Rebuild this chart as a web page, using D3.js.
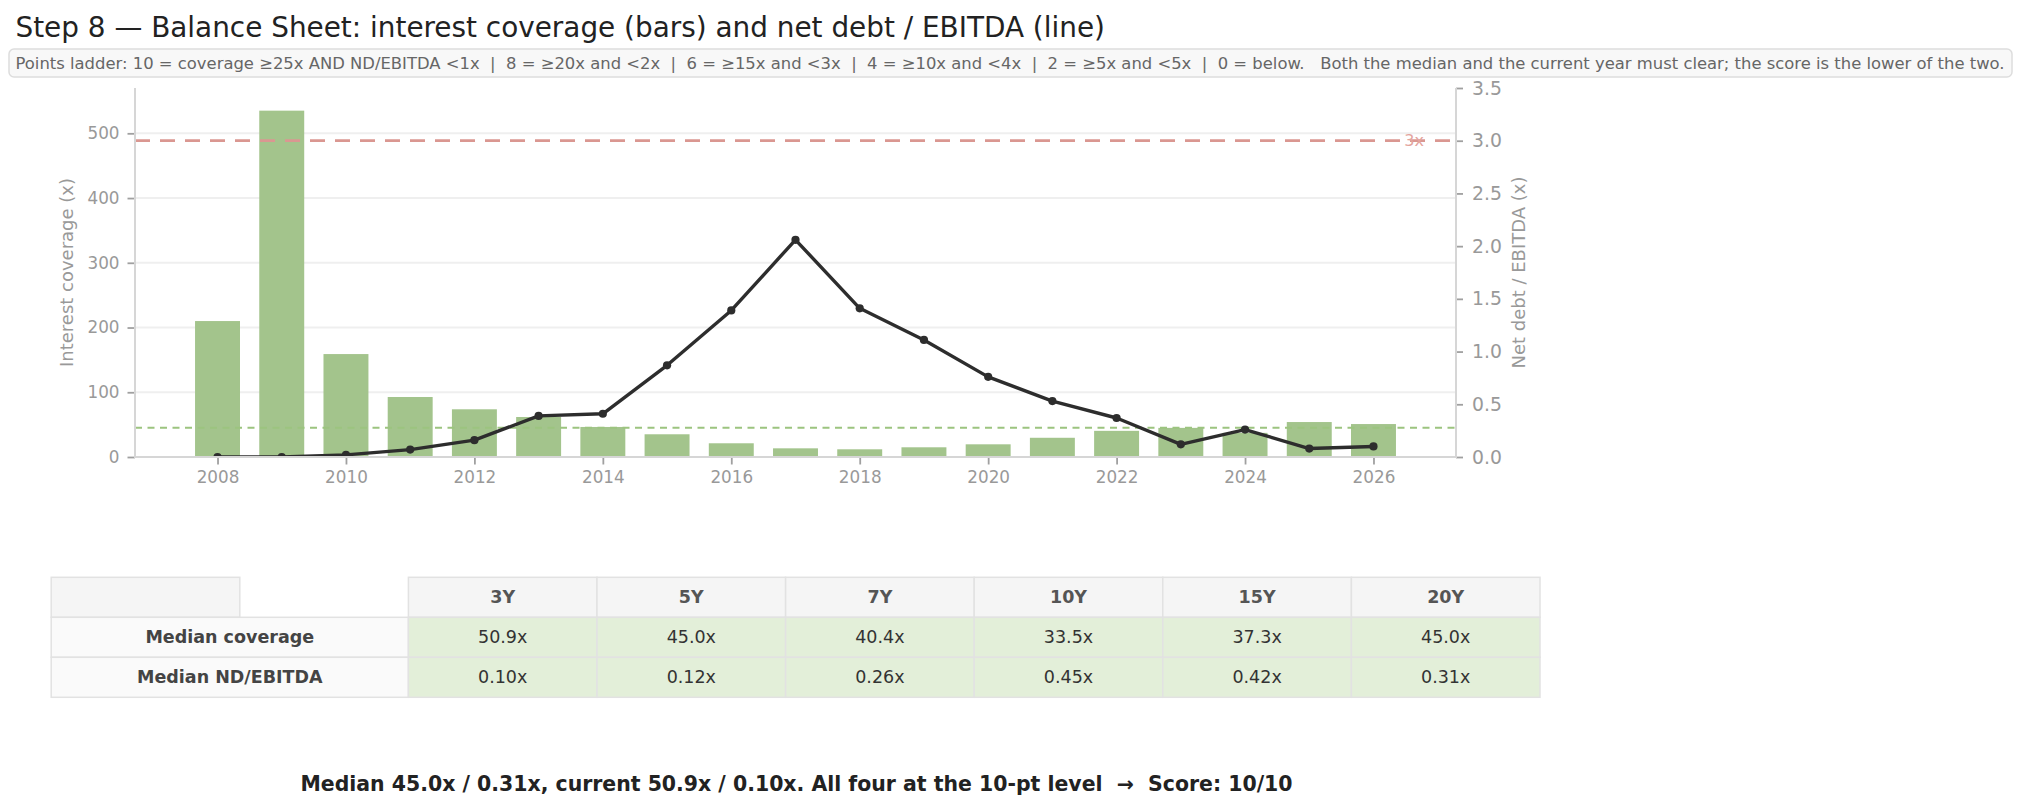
<!DOCTYPE html>
<html>
<head>
<meta charset="utf-8">
<script src="https://cdn.jsdelivr.net/npm/d3@7"></script>
<style>
  html,body{margin:0;padding:0;background:#fff;}
  svg{display:block;font-family:"DejaVu Sans",sans-serif;}
</style>
</head>
<body>
<svg id="chart" width="2021" height="810"></svg>
<script>
// ---- data ----
const years = [2008,2009,2010,2011,2012,2013,2014,2015,2016,2017,2018,2019,2020,2021,2022,2023,2024,2025,2026];
const coverage = [210,535,159,92.7,73.7,61.8,46.4,35.1,21.2,13.4,11.9,15,19.6,29.7,40.4,45.0,37.3,54,50.9];
const ndEbitda = [0.00,0.00,0.02,0.07,0.16,0.39,0.41,0.87,1.39,2.06,1.41,1.11,0.76,0.53,0.37,0.12,0.26,0.08,0.10];

const medianCoverage = 45.0;
const ndThreshold = 3.0;

const leftTicks = [0,100,200,300,400,500];
const rightTicks = [0,0.5,1.0,1.5,2.0,2.5,3.0,3.5];
const xTicks = [2008,2010,2012,2014,2016,2018,2020,2022,2024,2026];

const windows = ["3Y","5Y","7Y","10Y","15Y","20Y"];
const medCoverageRow = [50.9,45.0,40.4,33.5,37.3,45.0];
const medNdRow = [0.10,0.12,0.26,0.45,0.42,0.31];
const rowLabels = ["Median coverage","Median ND/EBITDA"];

const titleText = "Step 8 \u2014 Balance Sheet: interest coverage (bars) and net debt / EBITDA (line)";
const noteText = "Points ladder: 10 = coverage \u226525x AND ND/EBITDA <1x  |  8 = \u226520x and <2x  |  6 = \u226515x and <3x  |  4 = \u226510x and <4x  |  2 = \u22655x and <5x  |  0 = below.   Both the median and the current year must clear; the score is the lower of the two.";
const verdictText = "Median 45.0x / 0.31x, current 50.9x / 0.10x. All four at the 10-pt level  \u2192  Score: 10/10";

// ---- layout ----
const svg = d3.select("#chart");
const plot = {left:135, right:1456, top:88, bottom:457};

// shrink / grow a text so it spans a given width
function fitText(sel, width){
  const len = sel.node().getComputedTextLength();
  const fs = parseFloat(sel.attr("font-size"));
  sel.attr("font-size", (fs*width/len).toFixed(2));
}

// title
const title = svg.append("text").attr("x",15.5).attr("y",37).attr("font-size",26).attr("fill","#222").text(titleText);
fitText(title, 1090);

// note box
svg.append("rect").attr("x",9).attr("y",49).attr("width",2003).attr("height",28).attr("rx",5)
  .attr("fill","#f8f8f8").attr("stroke","#dddddd").attr("stroke-width",1.5);
const note = svg.append("text").attr("x",15.5).attr("y",63).attr("dominant-baseline","central")
  .attr("font-size",15).attr("fill","#666").style("white-space","pre").text(noteText);
fitText(note, 1989);

// ---- scales ----
const x = d3.scaleLinear().domain([2006.715,2027.285]).range([plot.left,plot.right]);
const yL = d3.scaleLinear().domain([0,570]).range([plot.bottom,plot.top]);
const yR = d3.scaleLinear().domain([0,3.5]).range([plot.bottom,plot.top]);
const barW = x(2008.7)-x(2008);

svg.append("defs").append("clipPath").attr("id","plotclip").append("rect")
  .attr("x",plot.left).attr("y",plot.top).attr("width",plot.right-plot.left).attr("height",plot.bottom-plot.top);

// grid
svg.append("g").selectAll("line").data(leftTicks.slice(1)).join("line")
  .attr("x1",plot.left).attr("x2",plot.right).attr("y1",d=>yL(d)).attr("y2",d=>yL(d))
  .attr("stroke","#efefef").attr("stroke-width",2);

const g = svg.append("g").attr("clip-path","url(#plotclip)");

// bars
g.append("g").selectAll("rect").data(years).join("rect")
  .attr("x",(d)=>x(d)-barW/2).attr("width",barW)
  .attr("y",(d,i)=>yL(coverage[i])).attr("height",(d,i)=>yL(0)-yL(coverage[i]))
  .attr("fill","#a3c48c");

// median coverage line
g.append("line").attr("x1",plot.left).attr("x2",plot.right).attr("y1",yL(medianCoverage)).attr("y2",yL(medianCoverage))
  .attr("stroke","#9cc47f").attr("stroke-width",2).attr("stroke-dasharray","7,5.5");

// 3x threshold
g.append("line").attr("x1",plot.left).attr("x2",plot.right).attr("y1",yR(ndThreshold)).attr("y2",yR(ndThreshold))
  .attr("stroke","#da9791").attr("stroke-width",2.8).attr("stroke-dasharray","15,10");
svg.append("text").attr("x",1424).attr("y",yR(ndThreshold)).attr("dominant-baseline","central").attr("text-anchor","end")
  .attr("font-size",16).attr("fill","#e3a49e").text("3x");

// net debt / EBITDA line
const line = d3.line().x((d,i)=>x(years[i])).y(d=>yR(d));
g.append("path").datum(ndEbitda).attr("d",line).attr("fill","none")
  .attr("stroke","#2d2d2d").attr("stroke-width",3.4).attr("stroke-linejoin","round");
g.append("g").selectAll("circle").data(ndEbitda).join("circle")
  .attr("cx",(d,i)=>x(years[i])).attr("cy",d=>yR(d)).attr("r",4.1).attr("fill","#2d2d2d");

// ---- axes ----
const tickCol = "#a0a0a0", labCol = "#999999", spineCol = "#d6d6d6";

const axL = svg.append("g").attr("transform",`translate(${plot.left},0)`)
  .call(d3.axisLeft(yL).tickValues(leftTicks).tickSize(7.5).tickPadding(8));
const axR = svg.append("g").attr("transform",`translate(${plot.right},0)`)
  .call(d3.axisRight(yR).tickValues(rightTicks).tickSize(7).tickPadding(9).tickFormat(d3.format(".1f")));
const axB = svg.append("g").attr("transform",`translate(0,${plot.bottom})`)
  .call(d3.axisBottom(x).tickValues(xTicks).tickSize(7.5).tickPadding(7).tickFormat(d3.format("d")));

[axL,axR,axB].forEach(a=>{
  a.select(".domain").remove();
  a.selectAll(".tick line").attr("stroke",tickCol).attr("stroke-width",1.8);
  a.selectAll(".tick text").attr("fill",labCol).attr("font-family","DejaVu Sans").attr("font-size",16.8);
});
axR.selectAll(".tick text").attr("font-size",18.8);

// spines
svg.append("line").attr("x1",plot.left).attr("x2",plot.left).attr("y1",plot.top).attr("y2",plot.bottom).attr("stroke",spineCol).attr("stroke-width",2);
svg.append("line").attr("x1",plot.right).attr("x2",plot.right).attr("y1",plot.top).attr("y2",plot.bottom).attr("stroke",spineCol).attr("stroke-width",2);
svg.append("line").attr("x1",plot.left-1).attr("x2",plot.right+1).attr("y1",plot.bottom).attr("y2",plot.bottom).attr("stroke",spineCol).attr("stroke-width",2);

// axis labels
const midY = (plot.top+plot.bottom)/2;
svg.append("text").attr("transform",`translate(66.7,${midY}) rotate(-90)`).attr("text-anchor","middle").attr("dominant-baseline","central")
  .attr("font-size",18).attr("fill",labCol).text("Interest coverage (x)");
svg.append("text").attr("transform",`translate(1518,${midY}) rotate(-90)`).attr("text-anchor","middle").attr("dominant-baseline","central")
  .attr("font-size",18).attr("fill",labCol).text("Net debt / EBITDA (x)");

// ---- table ----
const tbl = {left:51.2, labelRight:408.4, colW:188.6, top:577.3, rowH:40};
const colX = d3.scaleBand().domain(windows).range([tbl.labelRight, tbl.labelRight+tbl.colW*windows.length]);
const border = "#e2e2e2";
const tg = svg.append("g").attr("font-size",17.5);

// corner + header
tg.append("rect").attr("x",tbl.left).attr("y",tbl.top).attr("width",tbl.colW).attr("height",tbl.rowH)
  .attr("fill","#f5f5f5").attr("stroke",border).attr("stroke-width",1.5);
tg.selectAll("rect.hdr").data(windows).join("rect").attr("class","hdr")
  .attr("x",d=>colX(d)).attr("y",tbl.top).attr("width",colX.bandwidth()).attr("height",tbl.rowH)
  .attr("fill","#f5f5f5").attr("stroke",border).attr("stroke-width",1.5);
tg.selectAll("text.hdr").data(windows).join("text").attr("class","hdr")
  .attr("x",d=>colX(d)+colX.bandwidth()/2).attr("y",tbl.top+tbl.rowH/2).attr("text-anchor","middle").attr("dominant-baseline","central")
  .attr("font-weight","bold").attr("fill","#555").text(d=>d);

const rows = [medCoverageRow.map(v=>v.toFixed(1)+"x"), medNdRow.map(v=>v.toFixed(2)+"x")];
rows.forEach((vals,r)=>{
  const ry = tbl.top+tbl.rowH*(r+1);
  tg.append("rect").attr("x",tbl.left).attr("y",ry).attr("width",tbl.labelRight-tbl.left).attr("height",tbl.rowH)
    .attr("fill","#fafafa").attr("stroke",border).attr("stroke-width",1.5);
  tg.append("text").attr("x",(tbl.left+tbl.labelRight)/2).attr("y",ry+tbl.rowH/2).attr("text-anchor","middle").attr("dominant-baseline","central")
    .attr("font-weight","bold").attr("fill","#444").text(rowLabels[r]);
  tg.append("g").selectAll("rect").data(windows).join("rect")
    .attr("x",d=>colX(d)).attr("y",ry).attr("width",colX.bandwidth()).attr("height",tbl.rowH)
    .attr("fill","#e3efd9").attr("stroke",border).attr("stroke-width",1.5);
  tg.append("g").selectAll("text").data(windows).join("text")
    .attr("x",d=>colX(d)+colX.bandwidth()/2).attr("y",ry+tbl.rowH/2).attr("text-anchor","middle").attr("dominant-baseline","central")
    .attr("fill","#333").text((d,i)=>vals[i]);
});

// verdict
const verdict = svg.append("text").attr("x",796.5).attr("y",784).attr("text-anchor","middle").attr("dominant-baseline","central")
  .attr("font-size",19).attr("font-weight","bold").attr("fill","#222").style("white-space","pre").text(verdictText);
fitText(verdict, 993);
</script>
</body>
</html>
